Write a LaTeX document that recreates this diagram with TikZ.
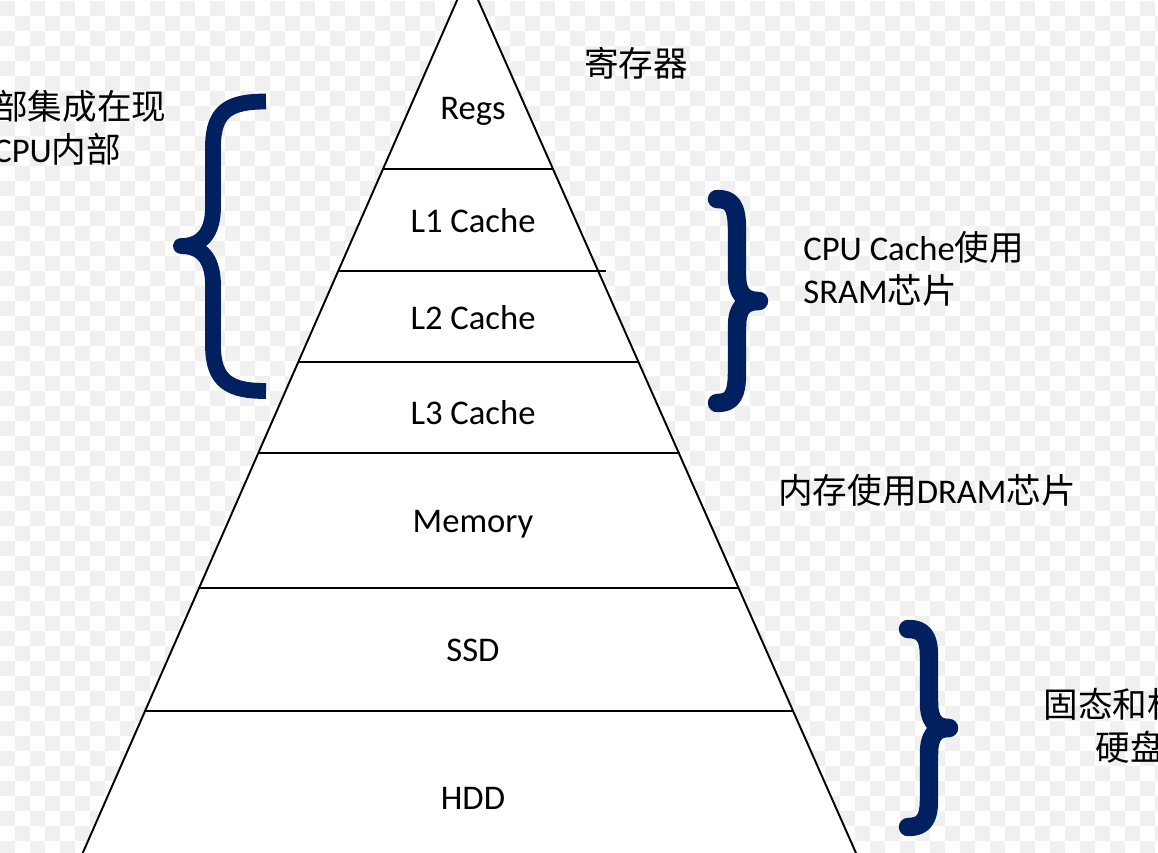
\documentclass[tikz,border=0pt]{standalone}
\usepackage{fontspec}
\setmainfont{Carlito}
\newfontfamily\cjk{Noto Sans CJK SC}
\usepackage{xcolor}
\usepackage{tikz}
\usetikzlibrary{positioning}
\definecolor{bracenavy}{RGB}{0,32,96}
\definecolor{checkgray}{RGB}{240,240,240}

\begin{document}
\begin{tikzpicture}[x=0.02cm, y=-0.02cm, font=\fontsize{19.7}{24}\selectfont,
    layer/.style={anchor=base, inner sep=0pt},
    note/.style={anchor=base west, inner sep=0pt},
    brace/.style={draw=bracenavy, line width=10.5pt, line cap=round, line join=round}]
  \useasboundingbox (0,0) rectangle (1158,852);
  \clip (0,0) rectangle (1158,852);
  % checkered backdrop
  \fill[white] (0,0) rectangle (1158,852);
  \foreach \i in {0,...,77}{
    \pgfmathtruncatemacro\off{mod(\i,2)}
    \foreach \j in {0,2,...,56}
      \fill[checkgray] (15*\i,15*\j+15*\off+1) rectangle ++(15,15);
  }
  % pyramid
  \coordinate (apex) at (467.6,-23.7);
  \coordinate (bl) at (62.1,900);
  \coordinate (br) at (876.8,900);
  \filldraw[fill=white, line width=1.1pt] (bl) -- (apex) -- (br) -- cycle;
  \foreach \y/\xl/\xr in {169/383/553, 271/338/606, 362/298/638, 453/258/680, 588/199/738, 711/145/793}
    \draw[line width=1.1pt] (\xl,\y) -- (\xr,\y);
  \node[layer] (regs) at (473,119) {Regs};
  \node[layer] (l1) at (473,232) {L1 Cache};
  \node[layer] (l2) at (473,329) {L2 Cache};
  \node[layer] (l3) at (473,424) {L3 Cache};
  \node[layer] (mem) at (473,532) {Memory};
  \node[layer] (ssd) at (473,661) {SSD};
  \node[layer] (hdd) at (473,809) {HDD};
  % labels
  \node[note] (reglbl) at (584,76) {\cjk 寄存器};
  \node[note, align=left] (sramlbl) at (803,303) {CPU Cache{\cjk 使用}\\SRAM{\cjk 芯片}};
  \node[note] (dramlbl) at (778,503) {{\cjk 内存使用}DRAM{\cjk 芯片}};
  \node[note, align=left] (cpulbl) at (-7,162) {{\cjk 部集成在现}\\CPU{\cjk 内部}};
  \node[anchor=base, inner sep=0pt, align=center] (disklbl) at (1130,760) {{\cjk 固态和机械}\\{\cjk 硬盘}};
  % braces
  \draw[brace, line width=9pt, line cap=butt] (266,101.5) .. controls (230,101.5) and (213,110) .. (213,147) -- (213,207) .. controls (213,235) and (200,246) .. (181,246) .. controls (200,246) and (213,257) .. (213,285) -- (213,345) .. controls (213,382) and (230,391) .. (266,391);
  \draw[brace] (717,199) .. controls (731,199) and (737,205) .. (737,230) -- (737,275) .. controls (737,294) and (744,301) .. (759,301) .. controls (744,301) and (737,308) .. (737,327) -- (737,372) .. controls (737,397) and (731,403) .. (717,403);
  \draw[brace] (908,629) .. controls (923,629) and (929,636) .. (929,657) -- (929,702) .. controls (929,720) and (935,728) .. (949,728) .. controls (935,728) and (929,736) .. (929,754) -- (929,799) .. controls (929,820) and (923,827) .. (908,827);
\end{tikzpicture}
\end{document}
